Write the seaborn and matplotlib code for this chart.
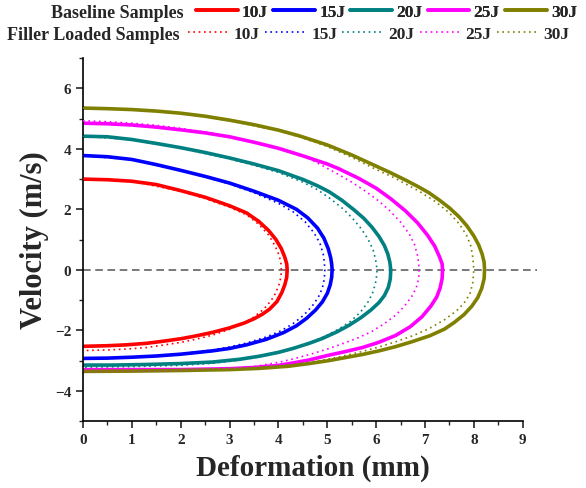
import numpy as np
import pandas as pd
import matplotlib
matplotlib.use("Agg")
import matplotlib.pyplot as plt
import seaborn as sns
from matplotlib.lines import Line2D
from matplotlib.ticker import MultipleLocator

sns.set_style("white")
plt.rcParams['font.family'] = ['Liberation Serif', 'DejaVu Serif']
plt.rcParams['font.weight'] = 'bold'

energies = ["10J", "15J", "20J", "25J", "30J"]
colors = ["#FF0000", "#0000FF", "#008080", "#FF00FF", "#808000"]

# baseline samples (solid), points read along each loop: deformation (mm), velocity (m/s)
base_10_x = [0, 0.5, 1, 1.5, 2, 2.5, 3, 3.35, 3.6, 3.8, 3.95, 4.06, 4.13, 4.17, 4.18,
             4.17, 4.13, 4.07, 3.97, 3.82, 3.67, 3.5, 3.3, 3.0, 2.65, 2.3, 2.0, 1.6, 1.3, 0.9, 0.5, 0]
base_10_v = [3.0, 2.98, 2.93, 2.82, 2.62, 2.4, 2.12, 1.88, 1.6, 1.3, 1.0, 0.7, 0.42, 0.2, 0,
             -0.25, -0.5, -0.75, -1.05, -1.3, -1.47, -1.62, -1.76, -1.92, -2.07, -2.19, -2.28, -2.37, -2.43, -2.48, -2.51, -2.53]
base_15_x = [0, 0.5, 1, 1.5, 2, 2.5, 3, 3.5, 4, 4.37, 4.6, 4.8, 4.93, 5.02, 5.07, 5.09, 5.1,
             5.09, 5.06, 5.0, 4.9, 4.76, 4.58, 4.37, 4.1, 3.75, 3.35, 3.0, 2.65, 2.3, 2.0, 1.5, 1.0, 0.5, 0]
base_15_v = [3.78, 3.74, 3.65, 3.48, 3.29, 3.09, 2.87, 2.6, 2.3, 2.0, 1.72, 1.38, 1.05, 0.7, 0.4, 0.2, 0,
             -0.25, -0.5, -0.78, -1.06, -1.33, -1.6, -1.85, -2.08, -2.3, -2.48, -2.6, -2.68, -2.74, -2.79, -2.85, -2.89, -2.92, -2.93]
base_20_x = [0, 0.5, 1, 1.5, 2, 2.5, 3, 3.5, 4, 4.5, 4.8, 5.04, 5.3, 5.55, 5.75, 5.92, 6.06, 6.17, 6.24, 6.28, 6.3,
             6.29, 6.25, 6.17, 6.06, 5.9, 5.7, 5.45, 5.2, 4.9, 4.63, 4.3, 4.0, 3.6, 3.2, 2.65, 2.0, 1.3, 0.6, 0]
base_20_v = [4.42, 4.4, 4.31, 4.18, 4.04, 3.88, 3.7, 3.5, 3.28, 2.99, 2.78, 2.58, 2.3, 1.98, 1.7, 1.4, 1.1, 0.8, 0.52, 0.26, 0,
             -0.3, -0.58, -0.85, -1.08, -1.32, -1.57, -1.83, -2.05, -2.27, -2.43, -2.6, -2.73, -2.86, -2.96, -3.05, -3.1, -3.13, -3.15, -3.15]
base_25_x = [0, 0.5, 1, 1.5, 2, 2.5, 3, 3.5, 4, 4.5, 5, 5.24, 5.65, 6.0, 6.3, 6.6, 6.85, 7.05, 7.2, 7.3, 7.35, 7.36,
             7.35, 7.31, 7.24, 7.12, 6.94, 6.7, 6.4, 6.05, 5.72, 5.38, 5.04, 4.63, 4.3, 4.0, 3.5, 3.0, 2.0, 1.0, 0]
base_25_v = [4.85, 4.83, 4.79, 4.72, 4.63, 4.53, 4.4, 4.22, 4.02, 3.77, 3.5, 3.34, 3.02, 2.7, 2.35, 1.95, 1.55, 1.15, 0.78, 0.42, 0.2, 0,
             -0.3, -0.6, -0.9, -1.2, -1.55, -1.88, -2.17, -2.4, -2.57, -2.7, -2.82, -2.98, -3.08, -3.16, -3.23, -3.27, -3.3, -3.3, -3.3]
base_30_x = [0, 0.5, 1, 1.5, 2, 2.5, 3, 3.5, 4, 4.43, 5, 5.5, 6, 6.27, 6.6, 6.85, 7.08, 7.3, 7.5, 7.7, 7.86, 8.0, 8.1, 8.17, 8.21, 8.22,
             8.21, 8.16, 8.08, 7.96, 7.8, 7.6, 7.4, 7.1, 6.73, 6.4, 6.06, 5.72, 5.38, 5.04, 4.63, 4.2, 3.6, 3.0, 2.0, 1.0, 0]
base_30_v = [5.35, 5.33, 5.3, 5.25, 5.18, 5.08, 4.95, 4.8, 4.62, 4.43, 4.13, 3.8, 3.43, 3.23, 2.97, 2.76, 2.55, 2.3, 2.05, 1.75, 1.45, 1.12, 0.82, 0.52, 0.26, 0,
             -0.3, -0.62, -0.92, -1.2, -1.48, -1.74, -1.96, -2.18, -2.38, -2.54, -2.68, -2.8, -2.9, -3.0, -3.1, -3.19, -3.26, -3.3, -3.33, -3.35, -3.36]

# filler loaded samples (dotted)
fill_10_x = [0, 1, 2, 2.5, 3, 3.35, 3.6, 3.8, 3.93, 4.01, 4.05, 4.06,
             4.05, 4.01, 3.94, 3.85, 3.7, 3.5, 3.3, 3.0, 2.65, 2.3, 2.0, 1.6, 1.3, 0.9, 0.5, 0]
fill_10_v = [3.0, 2.93, 2.6, 2.36, 2.07, 1.82, 1.5, 1.15, 0.8, 0.5, 0.25, 0,
             -0.25, -0.5, -0.78, -1.02, -1.3, -1.56, -1.76, -1.97, -2.16, -2.3, -2.4, -2.5, -2.57, -2.62, -2.65, -2.67]
fill_15_x = [0, 1, 2, 2.5, 3, 3.5, 4, 4.3, 4.55, 4.73, 4.85, 4.92, 4.94, 4.95,
             4.94, 4.9, 4.82, 4.7, 4.52, 4.3, 4.05, 3.75, 3.35, 3.0, 2.65, 2.3, 2.0, 1.5, 1.0, 0.5, 0]
fill_15_v = [3.78, 3.64, 3.28, 3.07, 2.84, 2.55, 2.2, 1.92, 1.58, 1.22, 0.88, 0.5, 0.25, 0,
             -0.3, -0.6, -0.9, -1.18, -1.5, -1.78, -2.02, -2.22, -2.42, -2.55, -2.65, -2.72, -2.78, -2.85, -2.9, -2.93, -2.95]
fill_20_x = [0, 1, 2, 3, 3.5, 4, 4.5, 4.8, 5.04, 5.3, 5.52, 5.7, 5.84, 5.94, 5.99, 6.02,
             6.0, 5.94, 5.84, 5.68, 5.48, 5.24, 4.95, 4.7, 4.35, 4.0, 3.6, 3.2, 2.65, 2.0, 1.0, 0]
fill_20_v = [4.42, 4.3, 4.02, 3.67, 3.46, 3.22, 2.9, 2.65, 2.38, 2.05, 1.7, 1.35, 1.0, 0.65, 0.33, 0,
             -0.35, -0.72, -1.05, -1.4, -1.7, -1.95, -2.2, -2.38, -2.58, -2.74, -2.88, -2.99, -3.09, -3.16, -3.2, -3.22]
fill_25_x = [0, 0.5, 1, 1.5, 2, 2.5, 3, 3.5, 4, 4.63, 5.18, 5.5, 5.8, 6.05, 6.27, 6.5, 6.68, 6.79, 6.85, 6.87, 6.88,
             6.87, 6.82, 6.73, 6.58, 6.4, 6.15, 5.9, 5.6, 5.3, 5.04, 4.7, 4.3, 4.0, 3.5, 3.0, 2.0, 1.0, 0]
fill_25_v = [4.93, 4.9, 4.85, 4.78, 4.68, 4.55, 4.4, 4.21, 4.0, 3.68, 3.2, 2.9, 2.58, 2.28, 1.97, 1.58, 1.18, 0.82, 0.45, 0.22, 0,
             -0.3, -0.6, -0.88, -1.2, -1.5, -1.8, -2.05, -2.27, -2.45, -2.6, -2.77, -2.95, -3.06, -3.2, -3.27, -3.33, -3.35, -3.36]
fill_30_x = [0, 1, 2, 3, 4, 4.5, 5, 5.5, 6.0, 6.4, 6.88, 7.2, 7.49, 7.7, 7.85, 7.94, 7.98, 8.0,
             7.98, 7.92, 7.8, 7.65, 7.4, 7.08, 6.75, 6.4, 6.06, 5.72, 5.38, 5.0, 4.5, 4.0, 3.0, 2.0, 1.0, 0]
fill_30_v = [5.35, 5.3, 5.18, 4.93, 4.6, 4.36, 4.08, 3.72, 3.32, 3.02, 2.6, 2.27, 1.9, 1.52, 1.15, 0.78, 0.4, 0,
             -0.42, -0.8, -1.1, -1.35, -1.65, -1.95, -2.18, -2.38, -2.55, -2.7, -2.83, -2.96, -3.1, -3.2, -3.3, -3.33, -3.34, -3.35]

baseline = [(base_10_x, base_10_v), (base_15_x, base_15_v), (base_20_x, base_20_v),
            (base_25_x, base_25_v), (base_30_x, base_30_v)]
filler = [(fill_10_x, fill_10_v), (fill_15_x, fill_15_v), (fill_20_x, fill_20_v),
          (fill_25_x, fill_25_v), (fill_30_x, fill_30_v)]

DOT = (0, (1, 2.2))

fig = plt.figure(figsize=(5.86, 4.89), dpi=100)
ax = fig.add_axes([0.1416, 0.137, 0.7837, 0.742])

# zero line
ax.axhline(0, xmin=0, xmax=9.3 / 9.4, color='#555555', linestyle=(0, (5, 3)), linewidth=1.1, zorder=1)

for (x, v), c in zip(filler, colors):
    sns.lineplot(x=np.array(x), y=np.array(v), sort=False, estimator=None, ax=ax,
                 color=c, linewidth=1.2, linestyle=DOT, zorder=3)
for (x, v), c in zip(baseline, colors):
    sns.lineplot(x=np.array(x), y=np.array(v), sort=False, estimator=None, ax=ax,
                 color=c, linewidth=2.6, zorder=2, solid_joinstyle='round', solid_capstyle='round')

ax.set_xlim(0, 9.4)
ax.set_ylim(-5, 7)
ax.spines['top'].set_visible(False)
ax.spines['right'].set_visible(False)
ax.spines['bottom'].set_bounds(0, 9)
for s in ['left', 'bottom']:
    ax.spines[s].set_linewidth(1.2)
    ax.spines[s].set_color('black')
ax.set_xticks(range(0, 10))
ax.set_yticks([-4, -2, 0, 2, 4, 6])
ax.xaxis.set_minor_locator(MultipleLocator(0.5))
ax.yaxis.set_minor_locator(MultipleLocator(1))
ax.tick_params(which='major', direction='out', length=5, width=1.2, labelsize=11, bottom=True, left=True)
ax.tick_params(which='minor', direction='out', length=3, width=1.0, bottom=True, left=True)
for lab in ax.get_xticklabels() + ax.get_yticklabels():
    lab.set_fontweight('bold')

ax.set_xlabel('Deformation (mm)', fontsize=21, fontweight='bold', labelpad=6)
ax.set_ylabel('Velocity (m/s)', fontsize=22, fontweight='bold', labelpad=4)

# two-row legend at top
solid_handles = [Line2D([], [], color=c, linewidth=2.6) for c in colors]
dot_handles = [Line2D([], [], color=c, linewidth=1.2, linestyle=DOT) for c in colors]
common = dict(ncol=5, loc='center left', frameon=False, borderpad=0, borderaxespad=0,
              handlelength=2.4, handletextpad=0.25, columnspacing=0.3,
              prop={'weight': 'bold', 'size': 12.5})
leg1 = fig.legend(solid_handles, energies, bbox_to_anchor=(196 / 586, 0.973), **common)
leg2 = fig.legend(dot_handles, energies, bbox_to_anchor=(188 / 586, 0.928), **common)
fig.add_artist(leg1)
fig.text(184 / 586, 0.973, 'Baseline Samples', ha='right', va='center', fontsize=13, fontweight='bold')
fig.text(180 / 586, 0.928, 'Filler Loaded Samples', ha='right', va='center', fontsize=13, fontweight='bold')

fig.savefig('out.png', dpi=100)
